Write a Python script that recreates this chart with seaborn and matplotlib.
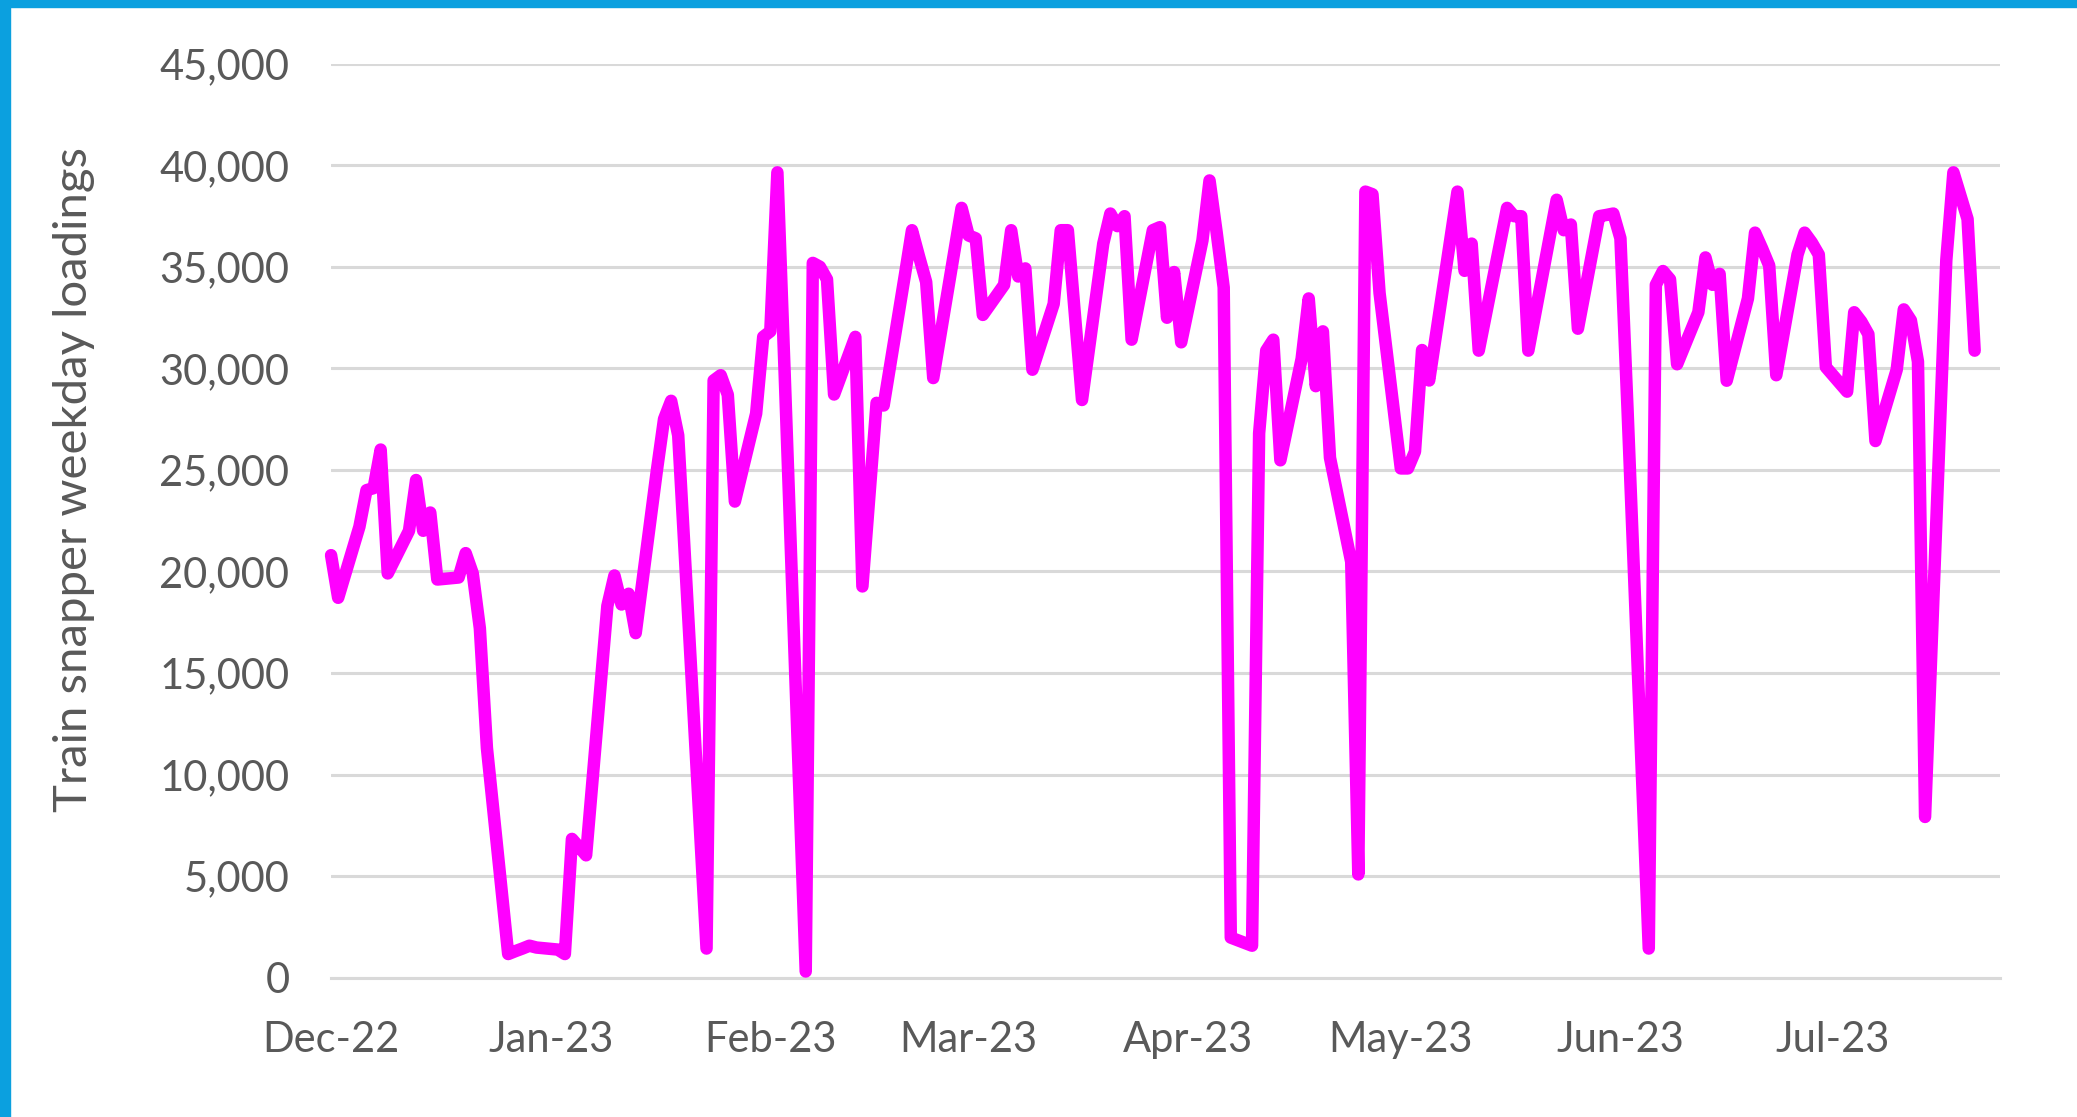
import pandas as pd
import matplotlib.pyplot as plt
import matplotlib.dates as mdates
import matplotlib.ticker as mticker
from matplotlib.patches import Rectangle
import seaborn as sns

# weekday loadings, one list per month
dec_22 = [20800, 18700, 22200, 24000, 24100, 26000, 19900, 22000, 24500, 22000,
          22900, 19600, 19700, 20900, 19900, 17200, 11300, 1160, 1300, 1430,
          1570, 1480]
jan_23 = [1380, 1160, 6830, 6430, 6020, 18300, 19800, 18370, 18900, 16960,
          25000, 27500, 28400, 26700, 20400, 1430, 29400, 29660, 28700, 23440,
          27770, 31550]
feb_23 = [31820, 39650, 30000, 300, 35190, 35000, 34380, 28710, 31550, 19260,
          23800, 28300, 28170, 34600, 36800, 35500, 34250, 29520, 35800, 37900]
mar_23 = [36540, 36400, 32630, 34110, 36800, 34520, 34920, 29930, 33170, 36800,
          36800, 32600, 28440, 36140, 37620, 37000, 37490, 31410, 36800, 36950,
          32490, 34740, 31280]
apr_23 = [36300, 39250, 36700, 33980, 1970, 1570, 26800, 30870, 31410, 25470,
          30470, 33440, 29120, 31820, 25600, 20470, 5080, 38700, 38570, 33710]
may_23 = [25070, 25070, 25900, 30900, 29400, 36400, 38700, 34800, 36140, 30870,
          36140, 37900, 37490, 37490, 30870, 36440, 38300, 36800, 37080, 31950,
          37490, 37550, 37620]
jun_23 = [36400, 28000, 1430, 34110, 34790, 34380, 30200, 32760, 35460, 34110,
          34650, 29390, 33440, 36680, 35900, 35060, 29660, 35600, 36680, 36200,
          35600, 30060]
jul_23 = [28850, 32760, 32300, 31680, 26420, 29930, 32900, 32360, 30330, 7910,
          35330, 39650, 38500, 37350, 30870]

loadings = dec_22 + jan_23 + feb_23 + mar_23 + apr_23 + may_23 + jun_23 + jul_23
days = pd.bdate_range("2022-12-01", "2023-07-21")

df = pd.DataFrame({"Date": days, "Loadings": loadings})

sns.set_style("white")
plt.rcParams["font.family"] = ["Lato", "DejaVu Sans"]

grey_txt = "#595959"
grid_col = "#d9d9d9"

fig = plt.figure(figsize=(20.77, 11.17), dpi=100)
ax = fig.add_axes([0.1594, 0.1248, 0.8036, 0.8182])

sns.lineplot(data=df, x="Date", y="Loadings", ax=ax, color="#FF00FF",
             linewidth=9, solid_joinstyle="round", solid_capstyle="round",
             clip_on=False, zorder=3)

ax.set_ylim(0, 45000)
ax.set_yticks(range(0, 45001, 5000))
ax.yaxis.set_major_formatter(mticker.StrMethodFormatter("{x:,.0f}"))

start = pd.Timestamp("2022-12-01")
ax.set_xlim(start, start + pd.Timedelta(days=235.6))
ax.xaxis.set_major_locator(mdates.MonthLocator())
ax.xaxis.set_major_formatter(mdates.DateFormatter("%b-%y"))

ax.grid(axis="y", color=grid_col, linewidth=2.2)
ax.grid(axis="x", visible=False)
ax.set_axisbelow(True)
for side in ["top", "right", "left"]:
    ax.spines[side].set_visible(False)
ax.spines["bottom"].set_color(grid_col)
ax.spines["bottom"].set_linewidth(2.2)

ax.tick_params(axis="x", length=10, width=2.2, color=grid_col,
               labelsize=30, labelcolor=grey_txt, pad=21)
ax.tick_params(axis="y", length=0, labelsize=30, labelcolor=grey_txt, pad=30)

ax.set_xlabel("")
ax.set_ylabel("Train snapper weekday loadings", fontsize=34, color=grey_txt)
ax.yaxis.set_label_coords(-0.1414, 0.545)

# blue frame along the top and left edges
fig.add_artist(Rectangle((0, 1 - 7 / 1117), 1, 7 / 1117, transform=fig.transFigure,
                         color="#0BA0DF", zorder=10))
fig.add_artist(Rectangle((0, 0), 10 / 2077, 1, transform=fig.transFigure,
                         color="#0BA0DF", zorder=10))

fig.savefig("out.png", dpi=100, facecolor="white")
